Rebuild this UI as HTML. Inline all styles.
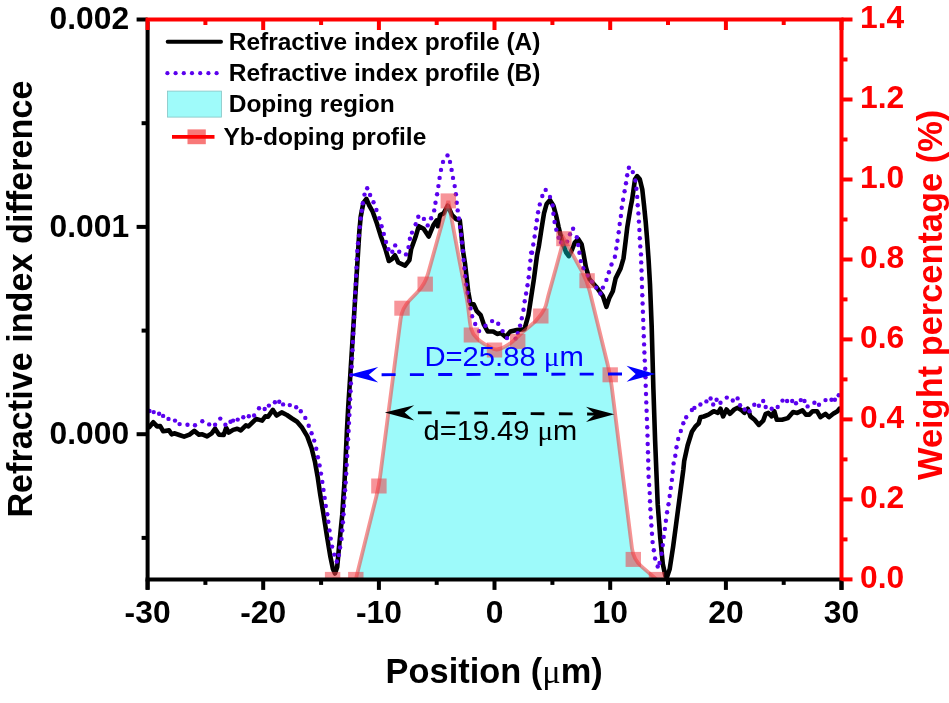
<!DOCTYPE html>
<html><head><meta charset="utf-8"><title>Refractive index profile</title>
<style>
html,body{margin:0;padding:0;background:#fff;}
body{width:949px;height:703px;overflow:hidden;font-family:"Liberation Sans",sans-serif;}
svg{display:block;will-change:transform;}
text{font-family:"Liberation Sans",sans-serif;}
.b{font-weight:bold;}
.ser{font-family:"Liberation Serif",serif;}
</style></head><body>
<svg width="949" height="703" viewBox="0 0 949 703">
<rect width="949" height="703" fill="#fff"/>
<defs><clipPath id="plot"><rect x="147.6" y="19.5" width="693.9" height="559.9"/></clipPath></defs>
<g clip-path="url(#plot)">
<path d="M149.4 427.0 L153.3 422.3 L157.1 426.4 L160.2 426.1 L163.1 431.2 L169.0 430.4 L171.6 434.3 L174.2 433.3 L179.3 435.0 L184.1 436.7 L189.5 434.6 L194.3 430.9 L198.9 434.6 L202.3 434.3 L207.1 436.4 L211.7 433.3 L215.1 428.7 L218.9 434.6 L223.7 435.0 L226.2 427.8 L228.8 432.6 L233.1 429.9 L237.3 428.7 L240.8 430.4 L245.9 425.3 L248.4 426.4 L256.1 418.9 L262.1 420.6 L265.5 416.2 L268.1 416.7 L272.9 409.9 L276.6 415.5 L281.7 412.4 L286.9 415.0 L292.0 418.5 L297.1 421.8 L302.2 427.8 L307.3 436.4 L311.6 448.3 L315.0 462.0 L317.6 476.5 L320.1 493.7 L323.5 514.2 L327.0 536.4 L330.4 556.8 L332.9 568.8 L335.0 573.5 L337.2 567.1 L338.9 548.3 L340.6 531.2 L342.3 514.2 L343.2 500.0 L344.5 482.5 L345.7 456.8 L346.9 431.2 L348.3 405.6 L350.0 380.0 L358.2 250.0 L359.3 232.0 L360.7 216.8 L363.3 203.2 L366.4 198.9 L369.3 205.7 L372.7 211.7 L377.0 223.7 L381.2 237.3 L385.5 249.3 L388.9 261.0 L392.0 259.0 L394.9 255.3 L398.3 262.5 L405.1 265.7 L409.4 260.2 L411.1 249.3 L415.4 237.3 L418.8 226.2 L423.6 228.8 L428.7 236.5 L433.3 225.4 L436.7 220.3 L437.9 226.2 L440.1 215.1 L443.6 213.4 L447.8 205.7 L452.1 215.1 L456.4 219.4 L459.8 220.3 L461.5 235.6 L463.0 251.0 L465.0 263.5 L468.2 291.6 L470.5 304.2 L473.6 304.2 L476.8 311.2 L480.7 315.1 L483.8 324.5 L487.7 331.5 L493.2 331.5 L497.1 333.9 L501.0 333.1 L505.7 337.0 L510.4 331.5 L516.7 330.0 L524.5 329.2 L528.4 315.1 L530.8 299.5 L533.9 279.1 L537.0 255.6 L538.9 245.9 L541.5 228.8 L544.0 213.4 L546.6 204.0 L550.0 200.1 L553.4 205.7 L556.0 215.1 L558.6 227.1 L561.1 237.3 L563.7 245.9 L566.2 252.7 L568.8 256.1 L572.2 249.3 L574.8 242.5 L578.2 239.0 L581.6 244.2 L583.3 252.7 L585.9 267.1 L589.3 279.0 L596.1 286.7 L602.9 296.1 L606.4 306.8 L609.2 298.3 L612.8 291.2 L615.6 278.4 L620.6 268.4 L623.5 258.4 L625.6 241.4 L627.3 227.1 L630.4 208.3 L632.1 199.8 L633.8 187.8 L635.0 179.3 L637.2 176.2 L639.8 179.3 L642.3 189.5 L644.0 204.9 L645.7 222.0 L647.1 239.0 L648.6 260.0 L650.0 284.2 L651.7 326.8 L653.4 389.2 L655.1 440.4 L657.7 504.2 L660.3 538.3 L662.8 563.9 L665.4 575.9 L667.1 576.7 L669.7 569.0 L673.1 546.8 L676.5 521.2 L679.9 495.6 L683.3 470.0 L684.2 460.9 L687.6 445.5 L691.9 431.8 L695.3 426.7 L698.7 423.3 L700.4 417.3 L703.8 416.5 L708.5 414.6 L713.7 411.2 L717.9 412.9 L720.5 408.7 L723.1 416.4 L726.5 409.5 L729.9 413.8 L734.2 409.5 L737.6 407.8 L741.8 410.4 L744.4 412.9 L747.8 408.7 L750.4 416.4 L754.6 419.8 L758.9 424.9 L763.2 420.6 L765.7 413.8 L768.3 412.9 L771.7 416.4 L774.3 411.2 L776.8 419.8 L782.0 419.8 L787.9 418.1 L793.1 412.1 L797.3 412.9 L802.5 410.4 L805.9 414.6 L809.3 414.6 L812.7 411.2 L817.0 411.2 L820.4 417.2 L825.5 413.8 L828.9 417.2 L833.2 413.8 L837.5 411.2 L839.5 408.7" fill="none" stroke="#000" stroke-width="4.6" stroke-linejoin="round" stroke-linecap="round"/>
<g fill="#5a00ee">
<circle cx="149.5" cy="411.0" r="2.2"/>
<circle cx="153.7" cy="412.1" r="2.2"/>
<circle cx="159.1" cy="413.8" r="2.2"/>
<circle cx="163.1" cy="415.9" r="2.2"/>
<circle cx="168.5" cy="418.9" r="2.2"/>
<circle cx="175.0" cy="420.6" r="2.2"/>
<circle cx="179.6" cy="424.1" r="2.2"/>
<circle cx="187.5" cy="424.7" r="2.2"/>
<circle cx="195.0" cy="425.3" r="2.2"/>
<circle cx="202.3" cy="421.3" r="2.2"/>
<circle cx="209.2" cy="424.4" r="2.2"/>
<circle cx="215.1" cy="424.7" r="2.2"/>
<circle cx="220.3" cy="418.6" r="2.2"/>
<circle cx="225.4" cy="424.7" r="2.2"/>
<circle cx="230.5" cy="421.8" r="2.2"/>
<circle cx="233.1" cy="420.6" r="2.2"/>
<circle cx="237.7" cy="419.6" r="2.2"/>
<circle cx="243.3" cy="417.2" r="2.2"/>
<circle cx="248.8" cy="416.2" r="2.2"/>
<circle cx="254.1" cy="415.5" r="2.2"/>
<circle cx="259.0" cy="408.2" r="2.2"/>
<circle cx="264.7" cy="409.0" r="2.2"/>
<circle cx="268.9" cy="405.6" r="2.2"/>
<circle cx="274.9" cy="402.2" r="2.2"/>
<circle cx="279.2" cy="401.7" r="2.2"/>
<circle cx="283.1" cy="404.4" r="2.2"/>
<circle cx="289.8" cy="405.1" r="2.2"/>
<circle cx="296.2" cy="407.3" r="2.2"/>
<circle cx="300.8" cy="411.2" r="2.2"/>
<circle cx="305.3" cy="417.9" r="2.2"/>
<circle cx="308.7" cy="425.8" r="2.2"/>
<circle cx="311.6" cy="433.3" r="2.2"/>
<circle cx="314.2" cy="440.6" r="2.2"/>
<circle cx="316.2" cy="448.8" r="2.2"/>
<circle cx="317.9" cy="457.2" r="2.2"/>
<circle cx="319.6" cy="465.4" r="2.2"/>
<circle cx="321.0" cy="473.6" r="2.2"/>
<circle cx="322.3" cy="481.9" r="2.2"/>
<circle cx="323.5" cy="489.9" r="2.2"/>
<circle cx="324.7" cy="497.9" r="2.2"/>
<circle cx="325.8" cy="506.0" r="2.2"/>
<circle cx="327.3" cy="514.2" r="2.2"/>
<circle cx="328.3" cy="521.8" r="2.2"/>
<circle cx="329.5" cy="530.4" r="2.2"/>
<circle cx="330.7" cy="538.6" r="2.2"/>
<circle cx="332.1" cy="546.6" r="2.2"/>
<circle cx="334.3" cy="554.6" r="2.2"/>
<circle cx="336.8" cy="561.5" r="2.2"/>
<circle cx="338.9" cy="555.1" r="2.2"/>
<circle cx="340.1" cy="547.5" r="2.2"/>
<circle cx="341.5" cy="538.9" r="2.2"/>
<circle cx="342.3" cy="530.4" r="2.2"/>
<circle cx="342.9" cy="522.3" r="2.2"/>
<circle cx="343.5" cy="514.2" r="2.2"/>
<circle cx="344.0" cy="506.0" r="2.2"/>
<circle cx="344.5" cy="497.8" r="2.2"/>
<circle cx="345.1" cy="490.2" r="2.2"/>
<circle cx="345.7" cy="482.6" r="2.2"/>
<circle cx="346.2" cy="473.7" r="2.2"/>
<circle cx="346.7" cy="464.9" r="2.2"/>
<circle cx="347.2" cy="456.0" r="2.2"/>
<circle cx="347.7" cy="447.7" r="2.2"/>
<circle cx="348.1" cy="439.3" r="2.2"/>
<circle cx="348.6" cy="431.0" r="2.2"/>
<circle cx="349.0" cy="423.1" r="2.2"/>
<circle cx="349.4" cy="415.1" r="2.2"/>
<circle cx="349.8" cy="407.2" r="2.2"/>
<circle cx="350.1" cy="399.3" r="2.2"/>
<circle cx="350.5" cy="391.3" r="2.2"/>
<circle cx="350.9" cy="383.4" r="2.2"/>
<circle cx="351.3" cy="375.1" r="2.2"/>
<circle cx="351.7" cy="366.8" r="2.2"/>
<circle cx="352.1" cy="358.6" r="2.2"/>
<circle cx="352.5" cy="350.3" r="2.2"/>
<circle cx="352.9" cy="342.0" r="2.2"/>
<circle cx="353.3" cy="333.8" r="2.2"/>
<circle cx="353.7" cy="325.5" r="2.2"/>
<circle cx="354.1" cy="317.2" r="2.2"/>
<circle cx="354.5" cy="308.9" r="2.2"/>
<circle cx="354.9" cy="300.6" r="2.2"/>
<circle cx="355.3" cy="292.4" r="2.2"/>
<circle cx="355.7" cy="284.1" r="2.2"/>
<circle cx="356.1" cy="275.8" r="2.2"/>
<circle cx="356.5" cy="267.6" r="2.2"/>
<circle cx="356.9" cy="259.3" r="2.2"/>
<circle cx="357.3" cy="251.0" r="2.2"/>
<circle cx="358.1" cy="243.3" r="2.2"/>
<circle cx="359.0" cy="235.6" r="2.2"/>
<circle cx="359.9" cy="227.1" r="2.2"/>
<circle cx="360.7" cy="218.5" r="2.2"/>
<circle cx="361.8" cy="210.8" r="2.2"/>
<circle cx="362.8" cy="203.2" r="2.2"/>
<circle cx="364.5" cy="194.6" r="2.2"/>
<circle cx="367.2" cy="188.3" r="2.2"/>
<circle cx="370.1" cy="195.0" r="2.2"/>
<circle cx="373.5" cy="202.3" r="2.2"/>
<circle cx="376.4" cy="210.0" r="2.2"/>
<circle cx="379.2" cy="218.2" r="2.2"/>
<circle cx="381.6" cy="226.2" r="2.2"/>
<circle cx="383.8" cy="233.9" r="2.2"/>
<circle cx="386.0" cy="241.9" r="2.2"/>
<circle cx="388.4" cy="249.3" r="2.2"/>
<circle cx="392.3" cy="251.8" r="2.2"/>
<circle cx="395.2" cy="245.4" r="2.2"/>
<circle cx="399.2" cy="251.8" r="2.2"/>
<circle cx="406.0" cy="254.4" r="2.2"/>
<circle cx="408.5" cy="247.1" r="2.2"/>
<circle cx="409.9" cy="238.7" r="2.2"/>
<circle cx="412.0" cy="232.6" r="2.2"/>
<circle cx="415.7" cy="224.2" r="2.2"/>
<circle cx="418.3" cy="216.8" r="2.2"/>
<circle cx="423.9" cy="218.9" r="2.2"/>
<circle cx="427.7" cy="225.4" r="2.2"/>
<circle cx="431.1" cy="218.2" r="2.2"/>
<circle cx="434.2" cy="210.4" r="2.2"/>
<circle cx="435.5" cy="202.7" r="2.2"/>
<circle cx="437.1" cy="194.3" r="2.2"/>
<circle cx="438.4" cy="186.1" r="2.2"/>
<circle cx="439.6" cy="177.9" r="2.2"/>
<circle cx="441.0" cy="169.9" r="2.2"/>
<circle cx="443.0" cy="161.9" r="2.2"/>
<circle cx="447.5" cy="155.4" r="2.2"/>
<circle cx="450.0" cy="161.9" r="2.2"/>
<circle cx="451.6" cy="169.9" r="2.2"/>
<circle cx="453.0" cy="177.9" r="2.2"/>
<circle cx="454.7" cy="186.1" r="2.2"/>
<circle cx="455.9" cy="194.3" r="2.2"/>
<circle cx="456.7" cy="202.7" r="2.2"/>
<circle cx="457.7" cy="210.4" r="2.2"/>
<circle cx="458.9" cy="218.5" r="2.2"/>
<circle cx="460.1" cy="227.1" r="2.2"/>
<circle cx="461.1" cy="234.8" r="2.2"/>
<circle cx="462.0" cy="242.5" r="2.2"/>
<circle cx="462.9" cy="251.0" r="2.2"/>
<circle cx="463.5" cy="260.0" r="2.2"/>
<circle cx="464.3" cy="268.2" r="2.2"/>
<circle cx="465.0" cy="276.3" r="2.2"/>
<circle cx="466.1" cy="284.6" r="2.2"/>
<circle cx="467.4" cy="292.7" r="2.2"/>
<circle cx="469.0" cy="300.9" r="2.2"/>
<circle cx="470.5" cy="308.4" r="2.2"/>
<circle cx="472.1" cy="316.2" r="2.2"/>
<circle cx="475.2" cy="324.0" r="2.2"/>
<circle cx="479.1" cy="331.1" r="2.2"/>
<circle cx="485.4" cy="325.8" r="2.2"/>
<circle cx="492.1" cy="321.1" r="2.2"/>
<circle cx="498.2" cy="323.7" r="2.2"/>
<circle cx="502.6" cy="331.1" r="2.2"/>
<circle cx="507.0" cy="338.1" r="2.2"/>
<circle cx="515.6" cy="338.6" r="2.2"/>
<circle cx="517.8" cy="333.1" r="2.2"/>
<circle cx="520.1" cy="325.6" r="2.2"/>
<circle cx="521.8" cy="318.3" r="2.2"/>
<circle cx="523.5" cy="309.8" r="2.2"/>
<circle cx="524.7" cy="301.2" r="2.2"/>
<circle cx="526.1" cy="293.5" r="2.2"/>
<circle cx="527.5" cy="285.3" r="2.2"/>
<circle cx="528.7" cy="277.3" r="2.2"/>
<circle cx="529.5" cy="268.8" r="2.2"/>
<circle cx="530.4" cy="260.6" r="2.2"/>
<circle cx="531.2" cy="252.6" r="2.2"/>
<circle cx="532.1" cy="252.7" r="2.2"/>
<circle cx="533.3" cy="244.5" r="2.2"/>
<circle cx="534.6" cy="236.5" r="2.2"/>
<circle cx="535.8" cy="228.3" r="2.2"/>
<circle cx="536.9" cy="220.3" r="2.2"/>
<circle cx="538.1" cy="212.2" r="2.2"/>
<circle cx="539.8" cy="204.4" r="2.2"/>
<circle cx="542.3" cy="196.0" r="2.2"/>
<circle cx="545.7" cy="189.9" r="2.2"/>
<circle cx="550.0" cy="196.9" r="2.2"/>
<circle cx="552.6" cy="205.4" r="2.2"/>
<circle cx="553.4" cy="213.8" r="2.2"/>
<circle cx="554.6" cy="222.0" r="2.2"/>
<circle cx="556.3" cy="229.7" r="2.2"/>
<circle cx="558.6" cy="237.7" r="2.2"/>
<circle cx="561.1" cy="242.5" r="2.2"/>
<circle cx="567.1" cy="241.6" r="2.2"/>
<circle cx="570.0" cy="234.3" r="2.2"/>
<circle cx="573.1" cy="228.8" r="2.2"/>
<circle cx="576.8" cy="237.3" r="2.2"/>
<circle cx="578.2" cy="245.0" r="2.2"/>
<circle cx="579.4" cy="252.7" r="2.2"/>
<circle cx="580.8" cy="261.1" r="2.2"/>
<circle cx="583.3" cy="268.3" r="2.2"/>
<circle cx="587.6" cy="275.6" r="2.2"/>
<circle cx="591.9" cy="281.6" r="2.2"/>
<circle cx="596.1" cy="287.6" r="2.2"/>
<circle cx="600.4" cy="293.5" r="2.2"/>
<circle cx="602.9" cy="287.6" r="2.2"/>
<circle cx="606.4" cy="279.9" r="2.2"/>
<circle cx="608.9" cy="272.2" r="2.2"/>
<circle cx="611.5" cy="264.5" r="2.2"/>
<circle cx="614.9" cy="256.8" r="2.2"/>
<circle cx="616.3" cy="248.4" r="2.2"/>
<circle cx="617.5" cy="240.7" r="2.2"/>
<circle cx="618.7" cy="232.2" r="2.2"/>
<circle cx="619.7" cy="224.0" r="2.2"/>
<circle cx="620.9" cy="216.0" r="2.2"/>
<circle cx="621.7" cy="207.8" r="2.2"/>
<circle cx="623.1" cy="199.8" r="2.2"/>
<circle cx="624.6" cy="191.2" r="2.2"/>
<circle cx="626.0" cy="183.2" r="2.2"/>
<circle cx="627.2" cy="175.3" r="2.2"/>
<circle cx="628.9" cy="167.8" r="2.2"/>
<circle cx="632.8" cy="172.1" r="2.2"/>
<circle cx="635.4" cy="180.5" r="2.2"/>
<circle cx="636.4" cy="188.7" r="2.2"/>
<circle cx="637.2" cy="196.9" r="2.2"/>
<circle cx="637.7" cy="205.2" r="2.2"/>
<circle cx="638.4" cy="213.4" r="2.2"/>
<circle cx="638.9" cy="221.6" r="2.2"/>
<circle cx="639.4" cy="230.0" r="2.2"/>
<circle cx="639.8" cy="238.2" r="2.2"/>
<circle cx="640.3" cy="246.4" r="2.2"/>
<circle cx="641.0" cy="254.4" r="2.2"/>
<circle cx="641.2" cy="262.4" r="2.2"/>
<circle cx="641.5" cy="270.5" r="2.2"/>
<circle cx="641.8" cy="278.8" r="2.2"/>
<circle cx="642.0" cy="287.0" r="2.2"/>
<circle cx="642.3" cy="295.3" r="2.2"/>
<circle cx="642.6" cy="303.5" r="2.2"/>
<circle cx="642.9" cy="311.8" r="2.2"/>
<circle cx="643.2" cy="320.0" r="2.2"/>
<circle cx="643.5" cy="328.1" r="2.2"/>
<circle cx="643.8" cy="336.2" r="2.2"/>
<circle cx="644.1" cy="344.4" r="2.2"/>
<circle cx="644.4" cy="352.5" r="2.2"/>
<circle cx="644.8" cy="360.6" r="2.2"/>
<circle cx="645.2" cy="368.7" r="2.2"/>
<circle cx="645.5" cy="377.2" r="2.2"/>
<circle cx="645.7" cy="385.7" r="2.2"/>
<circle cx="646.0" cy="394.0" r="2.2"/>
<circle cx="646.3" cy="402.4" r="2.2"/>
<circle cx="646.6" cy="410.7" r="2.2"/>
<circle cx="646.9" cy="419.0" r="2.2"/>
<circle cx="647.2" cy="427.3" r="2.2"/>
<circle cx="647.5" cy="435.6" r="2.2"/>
<circle cx="647.7" cy="444.0" r="2.2"/>
<circle cx="648.0" cy="452.3" r="2.2"/>
<circle cx="648.2" cy="460.5" r="2.2"/>
<circle cx="648.4" cy="468.6" r="2.2"/>
<circle cx="648.6" cy="476.8" r="2.2"/>
<circle cx="649.2" cy="485.0" r="2.2"/>
<circle cx="649.7" cy="493.1" r="2.2"/>
<circle cx="650.0" cy="501.2" r="2.2"/>
<circle cx="650.4" cy="509.3" r="2.2"/>
<circle cx="650.9" cy="517.4" r="2.2"/>
<circle cx="651.4" cy="525.5" r="2.2"/>
<circle cx="652.0" cy="533.8" r="2.2"/>
<circle cx="652.6" cy="542.1" r="2.2"/>
<circle cx="653.8" cy="550.3" r="2.2"/>
<circle cx="655.1" cy="558.5" r="2.2"/>
<circle cx="657.7" cy="566.5" r="2.2"/>
<circle cx="659.5" cy="563.0" r="2.2"/>
<circle cx="661.6" cy="553.7" r="2.2"/>
<circle cx="662.8" cy="545.1" r="2.2"/>
<circle cx="663.7" cy="536.9" r="2.2"/>
<circle cx="664.9" cy="528.9" r="2.2"/>
<circle cx="665.9" cy="520.7" r="2.2"/>
<circle cx="667.1" cy="512.3" r="2.2"/>
<circle cx="668.5" cy="504.2" r="2.2"/>
<circle cx="669.7" cy="496.0" r="2.2"/>
<circle cx="670.8" cy="487.9" r="2.2"/>
<circle cx="671.9" cy="479.9" r="2.2"/>
<circle cx="672.7" cy="471.7" r="2.2"/>
<circle cx="673.6" cy="463.4" r="2.2"/>
<circle cx="675.3" cy="455.8" r="2.2"/>
<circle cx="676.5" cy="447.2" r="2.2"/>
<circle cx="678.2" cy="439.0" r="2.2"/>
<circle cx="680.8" cy="431.0" r="2.2"/>
<circle cx="683.3" cy="423.3" r="2.2"/>
<circle cx="686.2" cy="417.3" r="2.2"/>
<circle cx="691.9" cy="410.0" r="2.2"/>
<circle cx="694.4" cy="407.9" r="2.2"/>
<circle cx="700.4" cy="404.5" r="2.2"/>
<circle cx="706.4" cy="401.4" r="2.2"/>
<circle cx="710.6" cy="398.5" r="2.2"/>
<circle cx="713.2" cy="404.5" r="2.2"/>
<circle cx="716.6" cy="399.7" r="2.2"/>
<circle cx="720.5" cy="402.7" r="2.2"/>
<circle cx="726.8" cy="397.6" r="2.2"/>
<circle cx="732.8" cy="400.5" r="2.2"/>
<circle cx="737.6" cy="398.4" r="2.2"/>
<circle cx="740.1" cy="405.3" r="2.2"/>
<circle cx="744.7" cy="409.5" r="2.2"/>
<circle cx="749.5" cy="411.2" r="2.2"/>
<circle cx="754.3" cy="404.7" r="2.2"/>
<circle cx="758.9" cy="405.8" r="2.2"/>
<circle cx="763.2" cy="401.0" r="2.2"/>
<circle cx="765.7" cy="407.0" r="2.2"/>
<circle cx="771.7" cy="408.7" r="2.2"/>
<circle cx="777.7" cy="407.0" r="2.2"/>
<circle cx="782.5" cy="400.6" r="2.2"/>
<circle cx="787.1" cy="401.0" r="2.2"/>
<circle cx="792.2" cy="401.0" r="2.2"/>
<circle cx="796.0" cy="403.2" r="2.2"/>
<circle cx="800.8" cy="400.1" r="2.2"/>
<circle cx="804.5" cy="401.0" r="2.2"/>
<circle cx="807.6" cy="406.4" r="2.2"/>
<circle cx="814.4" cy="402.7" r="2.2"/>
<circle cx="819.0" cy="404.7" r="2.2"/>
<circle cx="825.5" cy="400.1" r="2.2"/>
<circle cx="831.5" cy="399.8" r="2.2"/>
<circle cx="834.9" cy="399.8" r="2.2"/>
<circle cx="838.7" cy="395.3" r="2.2"/>
</g>
<path d="M355.8 579.4 L376.3 496.7 Q378.9 486.0 380.3 475.1 L400.6 319.2 Q402.0 308.2 409.6 300.3 L417.6 292.0 Q425.2 284.1 428.1 273.5 L448.3 200.9 C449.8 209.2 454.5 234.5 457.6 251.0 C460.7 267.5 464.7 287.0 467.0 300.0 C469.3 313.0 469.3 322.4 471.2 329.0 C473.1 335.6 475.2 336.4 478.1 339.3 C481.0 342.2 485.2 344.4 488.3 346.1 C491.4 347.8 493.4 349.8 496.8 349.5 C500.2 349.2 504.5 347.2 508.8 344.4 C513.1 341.5 518.0 336.4 522.5 332.4 C527.0 328.4 532.4 324.5 536.1 320.5 C539.8 316.5 542.6 312.8 544.7 308.5 C546.8 304.2 546.6 301.8 548.5 295.0 C550.4 288.2 553.4 277.4 556.0 268.0 C558.6 258.6 562.6 243.6 563.9 238.7 L581.8 271.0 Q587.1 280.7 589.7 291.3 L607.6 364.2 Q610.2 374.8 611.6 385.8 L632.0 548.5 Q633.3 559.4 641.7 566.6 L656.5 579.4 L656.5 579.4 L355.8 579.4 Z" fill="#00f2f2" fill-opacity="0.385"/>
<path d="M332.6 579.4 L355.8 579.4 L376.3 496.7 Q378.9 486.0 380.3 475.1 L400.6 319.2 Q402.0 308.2 409.6 300.3 L417.6 292.0 Q425.2 284.1 428.1 273.5 L448.3 200.9 C449.8 209.2 454.5 234.5 457.6 251.0 C460.7 267.5 464.7 287.0 467.0 300.0 C469.3 313.0 469.3 322.4 471.2 329.0 C473.1 335.6 475.2 336.4 478.1 339.3 C481.0 342.2 485.2 344.4 488.3 346.1 C491.4 347.8 493.4 349.8 496.8 349.5 C500.2 349.2 504.5 347.2 508.8 344.4 C513.1 341.5 518.0 336.4 522.5 332.4 C527.0 328.4 532.4 324.5 536.1 320.5 C539.8 316.5 542.6 312.8 544.7 308.5 C546.8 304.2 546.6 301.8 548.5 295.0 C550.4 288.2 553.4 277.4 556.0 268.0 C558.6 258.6 562.6 243.6 563.9 238.7 L581.8 271.0 Q587.1 280.7 589.7 291.3 L607.6 364.2 Q610.2 374.8 611.6 385.8 L632.0 548.5 Q633.3 559.4 641.7 566.6 L656.5 579.4" fill="none" stroke="#f03838" stroke-opacity="0.55" stroke-width="3.8" stroke-linejoin="miter"/>
<rect x="324.9" y="571.9" width="15.4" height="15" fill="#f03c46" fill-opacity="0.55"/>
<rect x="348.1" y="571.9" width="15.4" height="15" fill="#f03c46" fill-opacity="0.55"/>
<rect x="371.2" y="478.5" width="15.4" height="15" fill="#f03c46" fill-opacity="0.55"/>
<rect x="394.3" y="300.7" width="15.4" height="15" fill="#f03c46" fill-opacity="0.55"/>
<rect x="417.5" y="276.6" width="15.4" height="15" fill="#f03c46" fill-opacity="0.55"/>
<rect x="440.6" y="193.4" width="15.4" height="15" fill="#f03c46" fill-opacity="0.55"/>
<rect x="463.7" y="327.5" width="15.4" height="15" fill="#f03c46" fill-opacity="0.55"/>
<rect x="486.8" y="342.5" width="15.4" height="15" fill="#f03c46" fill-opacity="0.55"/>
<rect x="510.0" y="333.9" width="15.4" height="15" fill="#f03c46" fill-opacity="0.55"/>
<rect x="533.1" y="308.5" width="15.4" height="15" fill="#f03c46" fill-opacity="0.55"/>
<rect x="556.2" y="231.2" width="15.4" height="15" fill="#f03c46" fill-opacity="0.55"/>
<rect x="579.4" y="273.2" width="15.4" height="15" fill="#f03c46" fill-opacity="0.55"/>
<rect x="602.5" y="367.3" width="15.4" height="15" fill="#f03c46" fill-opacity="0.55"/>
<rect x="625.6" y="551.9" width="15.4" height="15" fill="#f03c46" fill-opacity="0.55"/>
<rect x="648.8" y="571.9" width="15.4" height="15" fill="#f03c46" fill-opacity="0.55"/>
</g>
<line x1="381.6" y1="374.7" x2="622.6" y2="374.0" stroke="#0000ff" stroke-width="2.9" stroke-dasharray="14 14.3"/>
<polygon points="349.1,374.7 378.2,367 368.8,374.7 378.2,382.5" fill="#0000ff"/>
<polygon points="655.4,374 626.6,365.7 635.6,374 626.6,381.7" fill="#0000ff"/>
<line x1="417.9" y1="412.7" x2="595" y2="414.1" stroke="#000" stroke-width="2.9" stroke-dasharray="13.7 14.5"/>
<polygon points="384.8,412.6 414.2,405.2 404.6,412.6 414.2,420.6" fill="#000"/>
<polygon points="614.3,414.2 586,406.8 595.1,414.2 586,422" fill="#000"/>
<text x="424.4" y="366.3" font-size="28" fill="#0000ff" textLength="159.5" lengthAdjust="spacingAndGlyphs">D=25.88 <tspan class="ser">μ</tspan>m</text>
<text x="423.6" y="440.3" font-size="28" fill="#000" textLength="153.6" lengthAdjust="spacingAndGlyphs">d=19.49 <tspan class="ser">μ</tspan>m</text>
<g stroke="#000" stroke-width="4" fill="none">
<line x1="145.6" y1="579.4" x2="841.5" y2="579.4"/>
<line x1="147.6" y1="21.5" x2="147.6" y2="589.4"/>
<line x1="147.6" y1="579.4" x2="147.6" y2="589.9"/>
<line x1="205.4" y1="579.4" x2="205.4" y2="584.9"/>
<line x1="263.2" y1="579.4" x2="263.2" y2="589.9"/>
<line x1="321.1" y1="579.4" x2="321.1" y2="584.9"/>
<line x1="378.9" y1="579.4" x2="378.9" y2="589.9"/>
<line x1="436.7" y1="579.4" x2="436.7" y2="584.9"/>
<line x1="494.5" y1="579.4" x2="494.5" y2="589.9"/>
<line x1="552.4" y1="579.4" x2="552.4" y2="584.9"/>
<line x1="610.2" y1="579.4" x2="610.2" y2="589.9"/>
<line x1="668.0" y1="579.4" x2="668.0" y2="584.9"/>
<line x1="725.9" y1="579.4" x2="725.9" y2="589.9"/>
<line x1="783.7" y1="579.4" x2="783.7" y2="584.9"/>
<line x1="841.5" y1="579.4" x2="841.5" y2="589.9"/>
<line x1="141.6" y1="537.9" x2="147.6" y2="537.9"/>
<line x1="136.6" y1="434.2" x2="147.6" y2="434.2"/>
<line x1="141.6" y1="330.6" x2="147.6" y2="330.6"/>
<line x1="136.6" y1="226.9" x2="147.6" y2="226.9"/>
<line x1="141.6" y1="123.2" x2="147.6" y2="123.2"/>
<line x1="136.6" y1="19.5" x2="147.6" y2="19.5"/>
</g>
<g stroke="#ff0000" stroke-width="4" fill="none">
<line x1="145.6" y1="19.5" x2="843.5" y2="19.5"/>
<line x1="147.6" y1="19.5" x2="147.6" y2="30.0"/>
<line x1="841.5" y1="19.5" x2="841.5" y2="580.4"/>
<line x1="205.4" y1="19.5" x2="205.4" y2="25.0"/>
<line x1="263.2" y1="19.5" x2="263.2" y2="30.0"/>
<line x1="321.1" y1="19.5" x2="321.1" y2="25.0"/>
<line x1="378.9" y1="19.5" x2="378.9" y2="30.0"/>
<line x1="436.7" y1="19.5" x2="436.7" y2="25.0"/>
<line x1="494.5" y1="19.5" x2="494.5" y2="30.0"/>
<line x1="552.4" y1="19.5" x2="552.4" y2="25.0"/>
<line x1="610.2" y1="19.5" x2="610.2" y2="30.0"/>
<line x1="668.0" y1="19.5" x2="668.0" y2="25.0"/>
<line x1="725.9" y1="19.5" x2="725.9" y2="30.0"/>
<line x1="783.7" y1="19.5" x2="783.7" y2="25.0"/>
<line x1="841.5" y1="19.5" x2="841.5" y2="30.0"/>
<line x1="841.5" y1="579.4" x2="852.5" y2="579.4"/>
<line x1="841.5" y1="539.4" x2="847.5" y2="539.4"/>
<line x1="841.5" y1="499.4" x2="852.5" y2="499.4"/>
<line x1="841.5" y1="459.4" x2="847.5" y2="459.4"/>
<line x1="841.5" y1="419.4" x2="852.5" y2="419.4"/>
<line x1="841.5" y1="379.4" x2="847.5" y2="379.4"/>
<line x1="841.5" y1="339.4" x2="852.5" y2="339.4"/>
<line x1="841.5" y1="299.4" x2="847.5" y2="299.4"/>
<line x1="841.5" y1="259.5" x2="852.5" y2="259.5"/>
<line x1="841.5" y1="219.5" x2="847.5" y2="219.5"/>
<line x1="841.5" y1="179.5" x2="852.5" y2="179.5"/>
<line x1="841.5" y1="139.5" x2="847.5" y2="139.5"/>
<line x1="841.5" y1="99.5" x2="852.5" y2="99.5"/>
<line x1="841.5" y1="59.5" x2="847.5" y2="59.5"/>
<line x1="841.5" y1="19.5" x2="852.5" y2="19.5"/>
</g>
<line x1="841.5" y1="581.4" x2="841.5" y2="589.9" stroke="#000" stroke-width="4"/>
<g class="b" font-size="31.8" fill="#000" text-anchor="middle">
<text x="147.6" y="622.7">-30</text>
<text x="263.2" y="622.7">-20</text>
<text x="378.9" y="622.7">-10</text>
<text x="494.5" y="622.7">0</text>
<text x="610.2" y="622.7">10</text>
<text x="725.9" y="622.7">20</text>
<text x="841.5" y="622.7">30</text>
</g>
<g class="b" font-size="31.8" fill="#000" text-anchor="end">
<text x="129.1" y="444.0">0.000</text>
<text x="129.1" y="236.7">0.001</text>
<text x="129.1" y="29.3">0.002</text>
</g>
<g class="b" font-size="31.8" fill="#ff0000">
<text x="860.1" y="588.1">0.0</text>
<text x="860.1" y="508.1">0.2</text>
<text x="860.1" y="428.1">0.4</text>
<text x="860.1" y="348.1">0.6</text>
<text x="860.1" y="268.2">0.8</text>
<text x="860.1" y="188.2">1.0</text>
<text x="860.1" y="108.2">1.2</text>
<text x="860.1" y="28.2">1.4</text>
</g>
<text class="b" x="385.6" y="682.9" font-size="34.4" fill="#000">Position (<tspan class="ser" font-weight="normal">μ</tspan>m)</text>
<text class="b" transform="translate(31.5,517.6) rotate(-90)" font-size="34.2" fill="#000">Refractive index difference</text>
<text class="b" transform="translate(941.5,479.9) rotate(-90)" font-size="34.4" fill="#ff0000">Weight percentage (%)</text>
<line x1="167.7" y1="41.8" x2="221" y2="41.8" stroke="#000" stroke-width="4" stroke-linecap="round"/>
<g fill="#5a00ee"><circle cx="167.4" cy="73.2" r="2.1"/><circle cx="175.6" cy="73.2" r="2.1"/><circle cx="183.8" cy="73.2" r="2.1"/><circle cx="192.0" cy="73.2" r="2.1"/><circle cx="200.2" cy="73.2" r="2.1"/><circle cx="208.4" cy="73.2" r="2.1"/><circle cx="216.6" cy="73.2" r="2.1"/></g>
<rect x="167.4" y="91.1" width="54" height="26" fill="#9ffbfa" stroke="#86c4c4" stroke-width="0.8"/>
<rect x="187.5" y="129.4" width="18.3" height="14.8" fill="#f87878"/>
<line x1="172" y1="136.8" x2="214.5" y2="136.8" stroke="#ff0000" stroke-width="3.8"/>
<g class="b" font-size="24.5" fill="#000">
<text x="228.7" y="50.1">Refractive index profile (A)</text>
<text x="228.7" y="80.8">Refractive index profile (B)</text>
<text x="228.7" y="111.6">Doping region</text>
<text x="223.5" y="144.5">Yb-doping profile</text>
</g>
</svg>
</body></html>
